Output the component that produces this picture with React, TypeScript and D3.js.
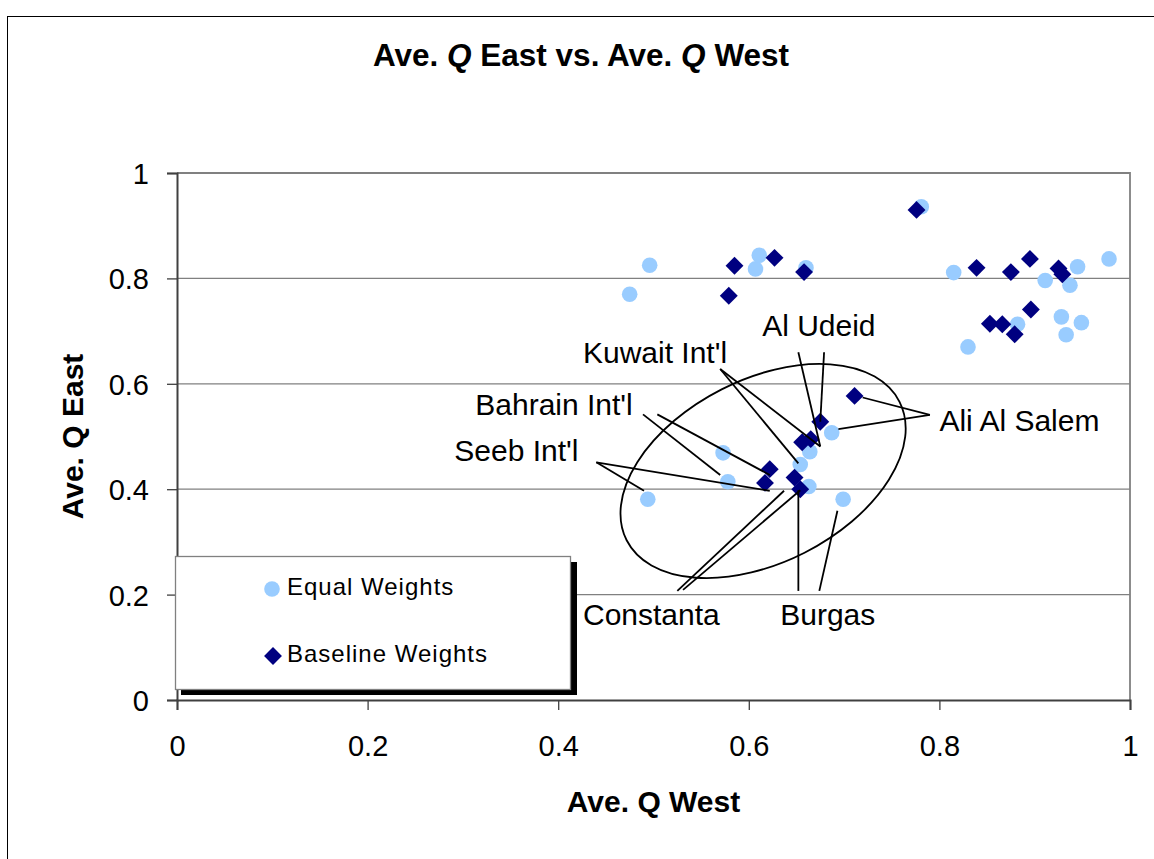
import { useEffect, useRef } from "react";
import * as d3 from "d3";

// Equal weights (light blue circles)
const equalX = [0.475, 0.496, 0.607, 0.611, 0.660, 0.781, 0.815, 0.911, 0.937, 0.945, 0.978, 0.830, 0.882, 0.928, 0.949, 0.933, 0.494, 0.573, 0.578, 0.654, 0.664, 0.663, 0.687, 0.699];
const equalY = [0.770, 0.825, 0.818, 0.844, 0.820, 0.936, 0.811, 0.796, 0.787, 0.822, 0.837, 0.670, 0.713, 0.727, 0.716, 0.693, 0.381, 0.469, 0.414, 0.447, 0.471, 0.405, 0.507, 0.381];

// Baseline weights (navy diamonds)
const baseX = [0.579, 0.585, 0.627, 0.658, 0.776, 0.839, 0.875, 0.895, 0.925, 0.929, 0.853, 0.866, 0.879, 0.896, 0.617, 0.622, 0.648, 0.654, 0.656, 0.665, 0.675, 0.711];
const baseY = [0.767, 0.824, 0.839, 0.812, 0.930, 0.820, 0.812, 0.837, 0.819, 0.808, 0.714, 0.713, 0.694, 0.741, 0.412, 0.438, 0.422, 0.400, 0.489, 0.495, 0.528, 0.577];

const xTicks = [0, 0.2, 0.4, 0.6, 0.8, 1];
const yTicks = [0, 0.2, 0.4, 0.6, 0.8, 1];
const gridTicks = [0.2, 0.4, 0.6, 0.8];

const seriesNames = ["Equal Weights", "Baseline Weights"];

// callout labels: text position and leader lines, in data units
const labelNames = ["Kuwait Int'l", "Al Udeid", "Bahrain Int'l", "Seeb Int'l", "Ali Al Salem", "Constanta", "Burgas"];
const labelPos = [[0.426, 0.639], [0.614, 0.691], [0.313, 0.541], [0.291, 0.454], [0.800, 0.510], [0.426, 0.143], [0.633, 0.143]];
const leaderLines = [
  [[0.570, 0.628, 0.652, 0.449], [0.570, 0.628, 0.675, 0.481]],
  [[0.652, 0.660, 0.675, 0.481], [0.679, 0.660, 0.675, 0.528]],
  [[0.489, 0.542, 0.570, 0.427], [0.504, 0.542, 0.622, 0.427]],
  [[0.440, 0.451, 0.490, 0.397], [0.440, 0.451, 0.622, 0.397]],
  [[0.790, 0.541, 0.7195, 0.574], [0.790, 0.541, 0.694, 0.514]],
  [[0.525, 0.207, 0.637, 0.397], [0.531, 0.209, 0.654, 0.398]],
  [[0.652, 0.207, 0.652, 0.398], [0.674, 0.207, 0.693, 0.359]],
];
const ellipseCenter = [0.615, 0.4345];

const FONT = "'Liberation Sans', Arial, sans-serif";
const LIGHT = "#99CCFF";
const NAVY = "#000080";

function drawChart(svgEl: SVGSVGElement) {
  const width = 1154;
  const height = 859;
  const margin = { top: 173, left: 177, right: 24, bottom: 159 };
  const innerW = width - margin.left - margin.right;
  const innerH = height - margin.top - margin.bottom;

  const svg = d3.select(svgEl);
  svg.selectAll("*").remove();
  svg.attr("width", width).attr("height", height);

  svg.append("rect").attr("width", width).attr("height", height).attr("fill", "#fff");

  // outer chart frame
  svg.append("rect")
    .attr("x", 7.5).attr("y", 16.5)
    .attr("width", width + 20).attr("height", height + 20)
    .attr("fill", "none").attr("stroke", "#000").attr("stroke-width", 1);

  // title with italic Q
  const title = svg.append("text")
    .attr("x", 581).attr("y", 66)
    .attr("text-anchor", "middle")
    .style("font-family", FONT).style("font-size", "31.5px").style("font-weight", "bold");
  title.append("tspan").text("Ave. ");
  title.append("tspan").style("font-style", "italic").text("Q");
  title.append("tspan").text(" East vs. Ave. ");
  title.append("tspan").style("font-style", "italic").text("Q");
  title.append("tspan").text(" West");

  const g = svg.append("g").attr("transform", `translate(${margin.left},${margin.top})`);

  const x = d3.scaleLinear().domain([0, 1]).range([0, innerW]);
  const y = d3.scaleLinear().domain([0, 1]).range([innerH, 0]);

  // gridlines
  g.append("g").selectAll("line").data(gridTicks).enter().append("line")
    .attr("x1", 0).attr("x2", innerW)
    .attr("y1", d => y(d)).attr("y2", d => y(d))
    .attr("stroke", "#808080").attr("stroke-width", 1.3);

  // plot border top and right
  g.append("path")
    .attr("d", `M0,${y(1)}H${x(1)}V${y(0)}`)
    .attr("fill", "none").attr("stroke", "#808080").attr("stroke-width", 1.8);

  // axes
  const fmt = d3.format("~g");
  g.append("g")
    .attr("transform", `translate(0,${innerH})`)
    .call(d3.axisBottom(x).tickValues(xTicks).tickFormat(d => fmt(d as number)).tickSize(10).tickPadding(25))
    .call(ax => {
      ax.select(".domain").attr("stroke", "#404040").attr("stroke-width", 2);
      ax.selectAll("line").attr("stroke", "#404040").attr("stroke-width", 1.3);
      ax.selectAll("text").attr("fill", "#000").style("font-family", FONT).style("font-size", "29px");
    });
  g.append("g")
    .call(d3.axisLeft(y).tickValues(yTicks).tickFormat(d => fmt(d as number)).tickSize(10).tickPadding(18))
    .call(ax => {
      ax.select(".domain").attr("stroke", "#404040").attr("stroke-width", 2);
      ax.selectAll("line").attr("stroke", "#404040").attr("stroke-width", 1.3);
      ax.selectAll("text").attr("fill", "#000").attr("dy", "0.36em").style("font-family", FONT).style("font-size", "29px");
    });

  // axis titles
  svg.append("text")
    .attr("x", margin.left + innerW / 2).attr("y", 812)
    .attr("text-anchor", "middle")
    .style("font-family", FONT).style("font-size", "30px").style("font-weight", "bold")
    .text("Ave. Q West");
  svg.append("text")
    .attr("transform", `translate(83,${margin.top + innerH / 2}) rotate(-90)`)
    .attr("text-anchor", "middle")
    .style("font-family", FONT).style("font-size", "30px").style("font-weight", "bold")
    .text("Ave. Q East");

  // ellipse
  g.append("ellipse")
    .attr("transform", `translate(${x(ellipseCenter[0])},${y(ellipseCenter[1])}) rotate(-26.9)`)
    .attr("rx", 153).attr("ry", 91.6)
    .attr("fill", "none").attr("stroke", "#000").attr("stroke-width", 1.8);

  // series
  const diamond = d3.symbol().type(d3.symbolSquare).size(160);
  g.append("g").selectAll("circle").data(equalX).enter().append("circle")
    .attr("cx", d => x(d)).attr("cy", (_, i) => y(equalY[i]))
    .attr("r", 7.8).attr("fill", LIGHT);
  g.append("g").selectAll("path").data(baseX).enter().append("path")
    .attr("d", diamond)
    .attr("transform", (d, i) => `translate(${x(d)},${y(baseY[i])}) rotate(45)`)
    .attr("fill", NAVY);

  // leader lines and labels
  leaderLines.forEach(set => {
    set.forEach(([x1, y1, x2, y2]) => {
      g.append("line")
        .attr("x1", x(x1)).attr("y1", y(y1))
        .attr("x2", x(x2)).attr("y2", y(y2))
        .attr("stroke", "#000").attr("stroke-width", 1.8);
    });
  });
  labelNames.forEach((name, i) => {
    g.append("text")
      .attr("x", x(labelPos[i][0])).attr("y", y(labelPos[i][1]))
      .style("font-family", FONT).style("font-size", "30px")
      .text(name);
  });

  // legend
  const lg = svg.append("g").attr("transform", "translate(175,556)");
  lg.append("rect").attr("x", 6).attr("y", 6).attr("width", 396).attr("height", 133).attr("fill", "#000");
  lg.append("rect").attr("x", 0.5).attr("y", 0.5).attr("width", 395).attr("height", 133)
    .attr("fill", "#fff").attr("stroke", "#808080").attr("stroke-width", 1.3);
  seriesNames.forEach((name, i) => {
    const cy = 33 + i * 67;
    if (i === 0) {
      lg.append("circle").attr("cx", 97).attr("cy", cy).attr("r", 7.8).attr("fill", LIGHT);
    } else {
      lg.append("path").attr("d", diamond).attr("transform", `translate(98,${cy}) rotate(45)`).attr("fill", NAVY);
    }
    lg.append("text")
      .attr("x", 112).attr("y", cy + 6)
      .style("font-family", FONT).style("font-size", "24px").style("letter-spacing", "1px")
      .text(name);
  });
}

export default function App() {
  const svgRef = useRef<SVGSVGElement>(null);
  useEffect(() => {
    if (svgRef.current) drawChart(svgRef.current);
  }, []);
  return (
    <svg ref={svgRef} style={{ position: "absolute", left: 0, top: 0, display: "block" }} />
  );
}
